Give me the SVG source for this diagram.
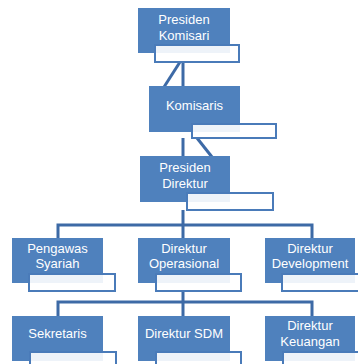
<svg xmlns="http://www.w3.org/2000/svg" width="358" height="364" viewBox="0 0 358 364">
<style>
.b{fill:#4f81bd}
.w{fill:#ffffff;fill-opacity:0.9;stroke:#4a7bb9;stroke-width:2}
.t{fill:#ffffff;font-family:"Liberation Sans",Arial,sans-serif;font-size:13px;text-anchor:middle}
.c{fill:none;stroke:#3d6aa6;stroke-width:3}
</style>
<rect width="358" height="364" fill="#ffffff"/>
<g id="connectors">
<line class="c" x1="183" y1="62" x2="183" y2="87"/>
<line class="c" x1="180" y1="62" x2="164" y2="87"/>
<line class="c" x1="183" y1="138" x2="183" y2="157"/>
<line class="c" x1="197" y1="138" x2="212" y2="157"/>
<path class="c" d="M183 210V225M58 238V225H312V238M183 225V238"/>
<path class="c" d="M183 292V302M58 316V302H312V316M183 302V316"/>
</g>
<g id="presiden-komisari">
<rect class="b" x="138" y="8" width="92" height="45"/>
<rect class="w" x="155" y="45" width="84" height="17"/>
<text class="t" x="184" y="24">Presiden</text>
<text class="t" x="184" y="39.5">Komisari</text>
</g>
<g id="komisaris">
<rect class="b" x="149" y="86" width="91" height="46"/>
<rect class="w" x="192" y="124" width="84" height="14"/>
<text class="t" x="194.5" y="110">Komisaris</text>
</g>
<g id="presiden-direktur">
<rect class="b" x="140" y="156" width="90" height="46"/>
<rect class="w" x="187" y="193" width="86" height="17"/>
<text class="t" x="185" y="172">Presiden</text>
<text class="t" x="185" y="188">Direktur</text>
</g>
<g id="pengawas-syariah">
<rect class="b" x="12" y="238" width="91" height="45"/>
<rect class="w" x="29" y="274" width="86" height="17"/>
<text class="t" x="57.5" y="252.5">Pengawas</text>
<text class="t" x="57.5" y="268">Syariah</text>
</g>
<g id="direktur-operasional">
<rect class="b" x="138" y="238" width="92" height="45"/>
<rect class="w" x="156" y="274" width="85" height="17"/>
<text class="t" x="184" y="252.5">Direktur</text>
<text class="t" x="184" y="268">Operasional</text>
</g>
<g id="direktur-development">
<rect class="b" x="265" y="238" width="90" height="45"/>
<rect class="w" x="282" y="274" width="86" height="17"/>
<text class="t" x="310" y="252.5">Direktur</text>
<text class="t" x="310" y="268">Development</text>
</g>
<g id="sekretaris">
<rect class="b" x="12" y="316" width="91" height="45"/>
<rect class="w" x="30" y="352" width="86" height="17"/>
<text class="t" x="57.5" y="338">Sekretaris</text>
</g>
<g id="direktur-sdm">
<rect class="b" x="138" y="316" width="92" height="45"/>
<rect class="w" x="156" y="352" width="85" height="17"/>
<text class="t" x="184" y="338">Direktur SDM</text>
</g>
<g id="direktur-keuangan">
<rect class="b" x="265" y="316" width="90" height="45"/>
<rect class="w" x="283" y="352" width="86" height="17"/>
<text class="t" x="310" y="330">Direktur</text>
<text class="t" x="310" y="346">Keuangan</text>
</g>
</svg>
